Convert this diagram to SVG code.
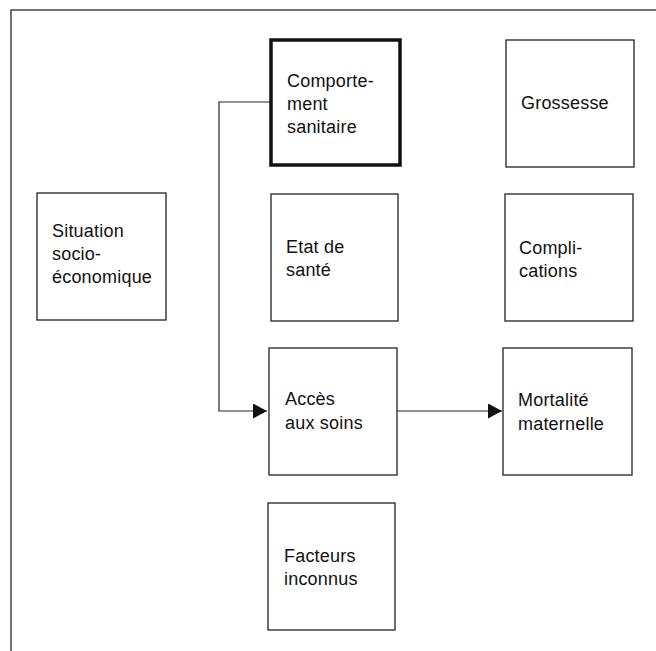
<svg xmlns="http://www.w3.org/2000/svg" width="656" height="651" viewBox="0 0 656 651">
<style>
.box{fill:#fff;stroke:#222;stroke-width:1.3}
.thick{fill:#fff;stroke:#111;stroke-width:3.5}
.t{font-family:"Liberation Sans",Arial,sans-serif;font-size:18px;letter-spacing:0.2px;fill:#111}
.c{fill:none;stroke:#222;stroke-width:1.2}
.frame{fill:none;stroke:#444;stroke-width:1.5}
</style>
<defs>
<marker id="ah" markerWidth="14" markerHeight="15" refX="14" refY="7.5" orient="auto" markerUnits="userSpaceOnUse">
<path d="M0,0 L14,7.5 L0,15 Z" fill="#111"/>
</marker>
</defs>
<rect width="656" height="651" fill="#fff"/>
<path class="frame" d="M11,651 L11,10 L656,10"/>
<g id="connectors">
<path class="c" d="M270,102 H219 V411 H267" marker-end="url(#ah)"/>
<path class="c" d="M397,411 H502" marker-end="url(#ah)"/>
</g>
<g id="comportement">
<rect class="thick" x="271" y="40" width="129" height="125"/>
<text class="t"><tspan x="287" y="87">Comporte-</tspan><tspan x="287" y="110">ment</tspan><tspan x="287" y="133">sanitaire</tspan></text>
</g>
<g id="grossesse">
<rect class="box" x="506" y="40" width="128" height="127"/>
<text class="t" x="521" y="109">Grossesse</text>
</g>
<g id="situation">
<rect class="box" x="37" y="193" width="129" height="127"/>
<text class="t"><tspan x="52" y="237">Situation</tspan><tspan x="52" y="260">socio-</tspan><tspan x="52" y="283">économique</tspan></text>
</g>
<g id="etat">
<rect class="box" x="271" y="194" width="127" height="127"/>
<text class="t"><tspan x="286" y="253">Etat de</tspan><tspan x="286" y="276">santé</tspan></text>
</g>
<g id="complications">
<rect class="box" x="505" y="194" width="128" height="127"/>
<text class="t"><tspan x="519" y="254">Compli-</tspan><tspan x="519" y="277">cations</tspan></text>
</g>
<g id="acces">
<rect class="box" x="269" y="348" width="128" height="127"/>
<text class="t"><tspan x="285" y="405">Accès</tspan><tspan x="285" y="429">aux soins</tspan></text>
</g>
<g id="mortalite">
<rect class="box" x="503" y="348" width="129" height="127"/>
<text class="t"><tspan x="518" y="406">Mortalité</tspan><tspan x="518" y="430">maternelle</tspan></text>
</g>
<g id="facteurs">
<rect class="box" x="268" y="503" width="127" height="127"/>
<text class="t"><tspan x="284" y="562">Facteurs</tspan><tspan x="284" y="585">inconnus</tspan></text>
</g>
</svg>
